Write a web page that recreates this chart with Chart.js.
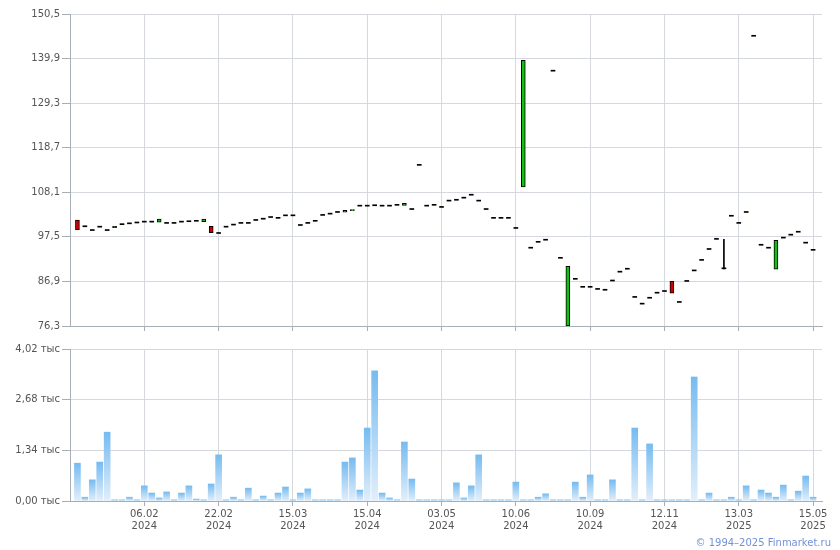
<!DOCTYPE html>
<html>
<head>
<meta charset="utf-8">
<script src="https://cdn.jsdelivr.net/npm/chart.js@4.4.1/dist/chart.umd.min.js"></script>
<style>
html,body{margin:0;padding:0;background:#fff;}
#wrap{position:relative;width:840px;height:550px;overflow:hidden;}
#top{position:absolute;left:0;top:0;width:840px;height:334px;}
#bot{position:absolute;left:0;top:340px;width:840px;height:210px;}
#copy{position:absolute;right:9px;top:537px;font:10px "DejaVu Sans";color:#7391d8;}
</style>
</head>
<body>
<div id="wrap">
  <div id="top"><canvas id="priceChart"></canvas></div>
  <div id="bot"><canvas id="volChart"></canvas></div>
  <div id="copy">© 1994–2025 Finmarket.ru</div>
</div>
<script>

// x positions are trading-day indexes 0..99
const xTickIdx = [9, 19, 29, 39, 49, 59, 69, 79, 89, 99];
const xTickDate = ["06.02", "22.02", "15.03", "15.04", "03.05", "10.06", "10.09", "12.11", "13.03", "15.05"];
const xTickYear = ["2024", "2024", "2024", "2024", "2024", "2024", "2024", "2024", "2025", "2025"];

const priceTicks = [76.3, 86.9, 97.5, 108.1, 118.7, 129.3, 139.9, 150.5];
const volTicks = [0, 1.34, 2.68, 4.02];

const openV = [
    101.5, 99.9, 99.0, 99.8, 99.0, 99.7, 100.4, 100.6, 100.8, 101.0,
    101.0, 101.0, 100.7, 100.7, 101.0, 101.1, 101.2, 101.1, 100.0, 98.3,
    99.8, 100.3, 100.7, 100.7, 101.4, 101.7, 102.1, 101.9, 102.5, 102.5,
    100.2, 100.7, 101.2, 102.6, 102.9, 103.3, 103.4, 103.7, 104.8, 104.8,
    104.9, 104.8, 104.8, 105.0, 105.0, 104.0, 114.5, 104.8, 105.0, 104.5,
    106.0, 106.2, 106.7, 107.4, 106.0, 104.0, 101.9, 101.9, 101.9, 99.5,
    109.4, 94.8, 96.2, 96.7, 136.9, 92.4, 76.3, 87.4, 85.5, 85.5,
    85.0, 84.8, 87.0, 89.1, 89.8, 83.1, 81.5, 82.9, 84.1, 84.5,
    86.9, 81.9, 86.9, 89.4, 91.9, 94.5, 96.9, 89.9, 102.4, 100.7,
    103.3, 145.2, 95.5, 94.8, 89.8, 97.2, 97.9, 98.6, 96.0, 94.3
];

const closeV = [
    99.2, 99.9, 99.0, 99.8, 99.0, 100.0, 100.4, 100.6, 100.8, 101.0,
    101.0, 101.7, 100.7, 100.7, 101.0, 101.1, 101.2, 101.7, 98.5, 98.3,
    99.8, 100.3, 100.7, 100.7, 101.4, 101.7, 102.1, 101.9, 102.5, 102.5,
    100.2, 100.7, 101.2, 102.6, 102.9, 103.3, 103.8, 104.0, 104.8, 104.8,
    104.9, 104.8, 104.8, 105.0, 105.5, 104.0, 114.5, 104.8, 105.0, 104.5,
    106.0, 106.2, 106.7, 107.4, 106.0, 104.0, 101.9, 101.9, 101.9, 99.5,
    139.5, 94.8, 96.2, 96.7, 136.9, 92.4, 90.5, 87.4, 85.5, 85.5,
    85.0, 84.8, 87.0, 89.1, 89.8, 83.1, 81.5, 82.9, 84.1, 84.5,
    84.1, 81.9, 86.9, 89.4, 91.9, 94.5, 96.9, 89.9, 102.4, 100.7,
    103.3, 145.2, 95.5, 94.8, 96.7, 97.2, 97.9, 98.6, 96.0, 94.3
];

// only day 87 has a visible wick
const wickDays = [87];
const wickLow = [89.9];
const wickHigh = [96.9];

// volume, thousands
const volV = [
    1.00, 0.10, 0.56, 1.03, 1.82, 0.03, 0.03, 0.10, 0.03, 0.40,
    0.21, 0.08, 0.24, 0.03, 0.21, 0.40, 0.05, 0.03, 0.45, 1.22,
    0.03, 0.10, 0.03, 0.34, 0.03, 0.13, 0.03, 0.21, 0.37, 0.03,
    0.21, 0.32, 0.03, 0.03, 0.03, 0.03, 1.03, 1.14, 0.29, 1.93,
    3.44, 0.21, 0.08, 0.03, 1.56, 0.58, 0.03, 0.03, 0.03, 0.03,
    0.03, 0.48, 0.08, 0.40, 1.22, 0.03, 0.03, 0.03, 0.03, 0.50,
    0.03, 0.03, 0.10, 0.19, 0.03, 0.03, 0.03, 0.50, 0.10, 0.69,
    0.03, 0.03, 0.56, 0.03, 0.03, 1.93, 0.03, 1.51, 0.03, 0.03,
    0.03, 0.03, 0.03, 3.28, 0.03, 0.21, 0.03, 0.03, 0.10, 0.03,
    0.40, 0.03, 0.29, 0.21, 0.10, 0.42, 0.03, 0.26, 0.66, 0.10
];

const gridColor = "#d5d9dd";
const axisColor = "#a8aeb5";
const labelColor = "#555555";

Chart.defaults.font.family = "'DejaVu Sans', Verdana, sans-serif";
Chart.defaults.font.size = 10;

function xAxis(showLabels) {
    return {
        type: "linear",
        min: -1,
        max: 100.2,
        offset: false,
        afterBuildTicks: s => { s.ticks = xTickIdx.map(v => ({ value: v })); },
        afterFit: s => { s.height = showLabels ? 49 : 8; },
        grid: { offset: false, color: gridColor, tickColor: axisColor, tickLength: 5 },
        border: { color: axisColor },
        ticks: {
            display: showLabels,
            autoSkip: false,
            maxRotation: 0,
            padding: 2,
            color: labelColor,
            callback: v => {
                const k = xTickIdx.indexOf(v);
                return k < 0 ? "" : [xTickDate[k], xTickYear[k]];
            }
        }
    };
}

function yAxis(min, max, list, fmt) {
    return {
        min: min,
        max: max,
        afterBuildTicks: s => { s.ticks = list.map(v => ({ value: v })); },
        afterFit: s => { s.width = 70; },
        grid: { color: gridColor, tickColor: axisColor, tickLength: 8 },
        border: { color: axisColor },
        ticks: { padding: 2, color: labelColor, callback: fmt }
    };
}

const bodies = openV.map((o, i) => ({ x: i, y: [o, closeV[i]] }));
const wicks = wickDays.map((d, k) => ({ x: d, y: [wickLow[k], wickHigh[k]] }));

function bodyColor(ctx) {
    const o = openV[ctx.dataIndex];
    const c = closeV[ctx.dataIndex];
    if (c > o) return "#12bf12";
    if (c < o) return "#cc0000";
    return "#000000";
}

new Chart(document.getElementById("priceChart"), {
    type: "bar",
    data: {
        datasets: [{
            data: bodies,
            grouped: false,
            barThickness: 4,
            minBarLength: 1,
            backgroundColor: bodyColor,
            borderColor: "#000000",
            borderWidth: ctx => openV[ctx.dataIndex] === closeV[ctx.dataIndex] ? 0 : 1,
            borderSkipped: false
        }, {
            data: wicks,
            grouped: false,
            barThickness: 1,
            backgroundColor: "#000000",
            borderWidth: 0
        }]
    },
    options: {
        responsive: true,
        maintainAspectRatio: false,
        animation: false,
        layout: { padding: { top: 14, right: 18, left: 0, bottom: 0 } },
        plugins: { legend: { display: false }, tooltip: { enabled: false } },
        scales: {
            x: xAxis(false),
            y: yAxis(76.3, 150.5, priceTicks, v => v.toFixed(1).replace(".", ","))
        }
    }
});

function volColor(ctx) {
    const chart = ctx.chart;
    const ys = chart.scales.y;
    if (!ys || ctx.raw == null) return "#9ccbf2";
    const top = ys.getPixelForValue(ctx.raw.y);
    const bottom = ys.getPixelForValue(0);
    if (!isFinite(top) || bottom - top < 1) return "#7dbdf0";
    const g = chart.ctx.createLinearGradient(0, top, 0, bottom);
    g.addColorStop(0, "#76bbf0");
    g.addColorStop(1, "#e2effb");
    return g;
}

new Chart(document.getElementById("volChart"), {
    type: "bar",
    data: {
        datasets: [{
            data: volV.map((v, i) => ({ x: i, y: v })),
            barThickness: 6,
            backgroundColor: volColor,
            borderWidth: 0
        }]
    },
    options: {
        responsive: true,
        maintainAspectRatio: false,
        animation: false,
        layout: { padding: { top: 9, right: 18, left: 0, bottom: 0 } },
        plugins: { legend: { display: false }, tooltip: { enabled: false } },
        scales: {
            x: xAxis(true),
            y: yAxis(0, 4.02, volTicks, v => v.toFixed(2).replace(".", ",") + " тыс")
        }
    }
});

</script>
</body>
</html>
